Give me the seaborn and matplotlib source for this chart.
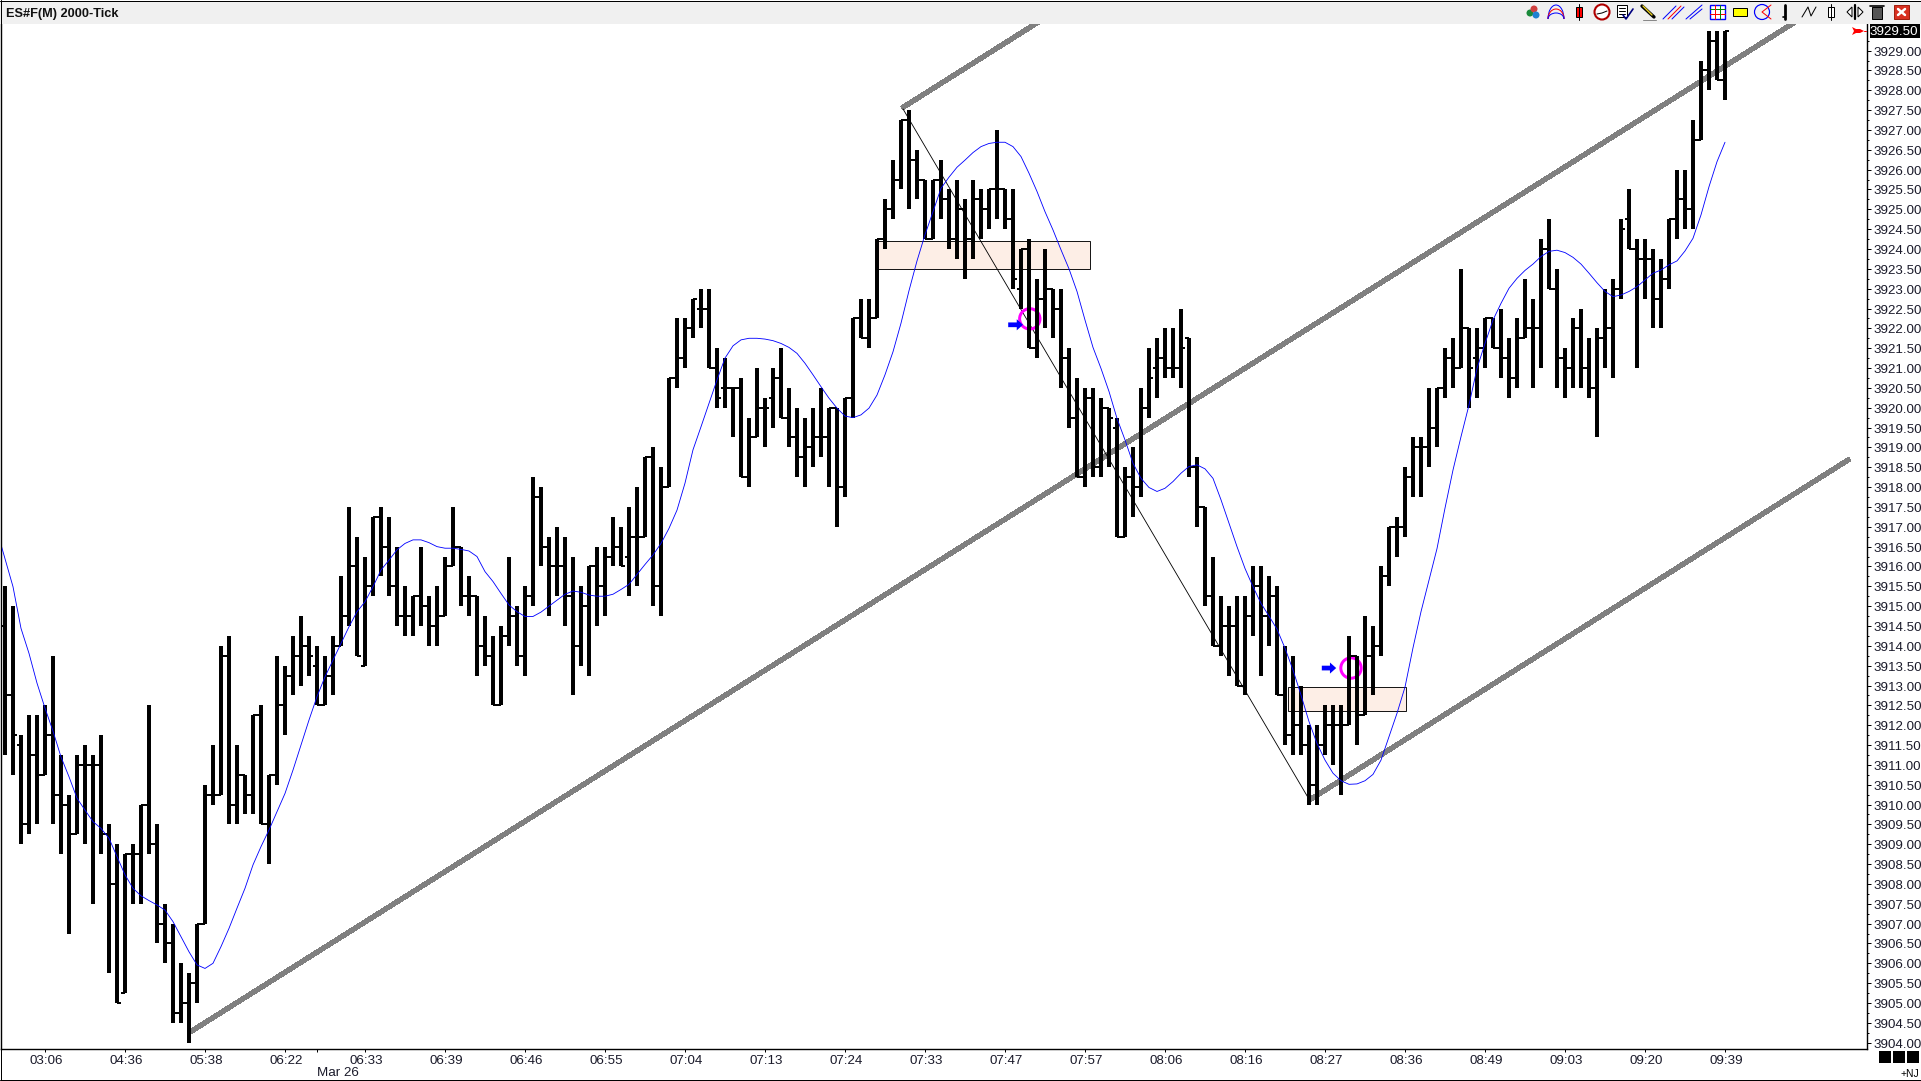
import numpy as np
import pandas as pd
import matplotlib
matplotlib.use("Agg")
import matplotlib.pyplot as plt
from matplotlib.patches import Rectangle, Circle, Polygon, Arc
from matplotlib.transforms import ScaledTranslation
import seaborn as sns

# prices are stored as offset from this level
BASE = 3900

opens = [14.5,12.75,11.5,9.5,11.25,10.75,11.75,10.25,10,9.25,11,11,11,9.25,8,5.25,8.75,8.75,10,9,
 7,6.5,4.75,5,5.5,7,10.25,10.25,13.75,10,10.75,10.25,12.25,9.5,10.75,12.5,13.25,13.75,14,13.5,
 12.5,13.25,14,14.75,16,13.5,15.5,17.25,16.5,15.5,14.75,14.75,15.25,15,14.5,14.75,16,16.5,15.25,15.25,
 14,13.75,12.5,14.25,14.75,13.75,15.25,17.75,16.5,16,16,15.25,14,15,16,15.5,16.25,16.5,16.25,16.75,
 16.75,18.75,15.5,18,20.75,21.25,22,22.5,22.5,21,20.5,20.5,20.5,18.25,19.25,20,20.25,20.75,19.75,19.25,
 18.75,19,19.25,19.25,20,18,20.25,22.25,21.75,22.25,24.25,25,25.75,27.25,26.25,25.75,24.25,25.75,25.25,24.25,
 25,24.25,25.25,25,25.5,25.5,24.75,23,24,21.5,22.75,23,22.5,21.25,19.75,18.25,20.25,18.5,20,19.5,
 16.75,18.25,18,20,21,21.25,21,21,21.75,18.5,17.5,15.25,14,14.5,14.5,13,14.75,15.5,14.75,15.25,
 12.75,11.75,12,11.5,10.5,11.5,12,12,12,13.75,12.25,13.75,14,15.75,17,17,18.25,19,19,19.5,
 20.5,21.25,21,22,21.25,21.5,22.25,21.5,21.25,20.75,21.75,22,22,24,23,21.25,21,22,21,20.5,
 21.75,22,23,24.75,24,23.75,23.75,22.75,23.25,24.75,25.25,25,26.75,28.5,29.25,28.25]
highs = [15.5,15,11.75,12.25,12.25,12.5,13.75,11.25,10.25,11.25,11.5,11.25,11.75,9.5,9,8.75,9,10,12.5,9.5,
 7.5,7,6,5.75,7,10.5,11.5,14,14.25,11.5,10.75,12.25,12.5,10.75,13.75,13.5,14.25,14.75,14.25,14,
 13.75,14.25,15.75,17.5,16.75,16.25,17.25,17.5,17.25,16.5,15.5,15.25,16.5,15.25,15.5,16.25,17.5,16.5,15.75,15.25,
 14.75,14.25,14.5,16.25,15,15.5,18.25,18,16.75,17,16.75,16.25,15.5,16,16.5,16.5,17.25,17,17.5,18,
 18.75,19,18.5,20.75,22.25,22.25,22.75,23,23,21.5,21.25,20.5,20.75,19.75,21,20.25,21,21.5,20.5,20,
 19.75,20,20.5,20,20,20.25,22.25,22.75,22.75,24.25,25.25,26.25,27.25,27.5,26.5,25.75,25.75,26.25,25.5,25.75,
 25.25,25.75,25.5,25.5,27,25.5,25.5,24,24.25,23.25,24,23,23,21.5,20.75,20.5,20.5,20.25,20,19.75,
 18.5,19,20.5,21.5,21.75,22,22,22.5,21.75,18.75,17.5,16.25,15.25,15,15.25,15.25,16,16,15.75,15.5,
 14,13.75,13,12,12,12.5,12.5,12.5,14.25,13.75,14.75,14.5,16,17,17.25,18.5,19.25,19.25,20.5,20.5,
 21.5,21.75,23.5,22,22,22.25,22.25,22.5,21.75,22.25,23.25,22.75,24.25,24.75,23.5,21.5,22.25,22.5,21.75,22,
 23,23.25,24.75,25.5,24.25,24.25,24,23.75,24.75,26,26,27.25,28.75,29.5,29.5,29.5]
lows = [11.25,10.75,9,9.25,9.5,10.75,9.5,8.75,6.75,9.25,9,7.5,8.75,5.75,5,5.25,7.5,7.5,8.75,6.5,
 6,4.5,4.5,4,5,7,10,10.25,9.5,9.5,9.75,9.75,9.5,8.5,10.5,11.75,12.75,13,13.25,12.5,
 12.5,12.75,14,14.5,13.75,13.5,15.25,15.75,15.25,14.5,14.25,14.25,14.5,14,14,14.75,16,15,14.75,13.25,
 13.5,12.5,12.5,14,13.5,13.25,15,16,14.75,15.25,14.5,12.75,13.5,13.25,14.5,14.75,16,16,15.25,15.5,
 16.75,15,14.75,18,20.5,21,21.75,22,21,20,20,19.25,18.25,18,19.25,19,19.5,19.75,19,18.25,
 18,18.5,18.75,18,17,17.75,19.75,21.75,21.5,22.25,24,24.75,25.5,25,25.25,24.25,24.25,24.75,24,23.75,
 23.25,23.75,24.25,24.5,24.75,24.5,23,22.5,21.5,21.25,22,21.75,20.5,19.5,18.25,18,18.25,18.25,18.5,16.75,
 16.75,17.25,17.75,19.75,20.25,20.75,20.75,20.5,18.25,17,15,14,13.75,13.25,13,12.75,14.25,13.25,14,12.75,
 11.5,11.25,11.25,10,10,11.25,11,10.25,12,11.5,12.25,12.75,13.75,15.5,16.25,16.75,17.75,17.75,18.5,19,
 20.25,20.5,21,20,20.25,21,21.5,20.75,20.25,20.5,21.75,20.5,21,23,20.5,20.25,20.5,20.5,20.25,19.25,
 21,20.75,22.75,24,21,22.75,22,22,23,24.25,24.5,24.5,26.75,28,28.25,27.75]
closes = [12.75,11.75,9.5,11.25,10.75,11.75,10.25,10,9.25,11,11,11,9.25,8,5,8.75,8.75,10,9,7,
 6.5,4.75,5,5.5,7,10.25,10.25,13.75,10,10.75,10.25,12.25,9.5,10.75,12.5,13.25,13.75,14,13.75,12.5,
 13.25,14,14.75,16,13.75,15.5,17.25,16.5,15.5,14.75,14.75,15.25,15,14.5,14.75,16,16.5,15.25,15.25,14,
 13.75,12.5,14.25,14.75,13.75,15.25,17.75,16.5,16,16,15.25,14,15,16,15.5,16.25,16.5,16,16.75,16.75,
 18.75,15.5,18,20.75,21.25,22,22.75,22.5,21,20.25,20.5,20.5,18.25,19.25,20,20,20.75,19.75,19.25,18.75,
 19,19.25,19.25,20,18,20.25,22.25,21.75,22.25,24.25,25,25.75,27.25,26.25,25.75,24.25,25.75,25.25,24.25,25,
 24.25,25.25,25,25.5,25.5,24.75,23.25,24,21.5,22.75,23,22.5,21.25,19.75,18.25,20.25,18.5,20,19.75,16.75,
 18.25,18,20,20.75,21.25,21,21,21.5,18.5,17.5,15.25,14,14.5,14.5,13,14.75,15.5,14.75,15.25,12.75,
 11.75,12,11.5,10.5,11.5,12,12,12,13.75,12.25,13.75,14,15.75,17,17,18.25,19,19,19.5,20.5,
 21.25,21,22,21,21.5,22.25,21.5,21.25,20.75,21.75,22,22,24,23,21.25,21,22,21,20.5,21.75,
 22,23,24.5,24,23.75,23.75,22.75,23.25,24.75,25.25,25,26.75,28.5,29.25,28.25,29.5]

# blue average, first value sits one bar left of the first bar
ma_values = [16.9,16.2,15.49,14.44,13.81,13.06,12.43,11.85,11.2,10.7,10.16,
 9.86,9.57,9.4,9.15,8.69,8.23,7.89,7.7,7.58,7.47,
 7.34,7.05,6.67,6.29,5.96,5.87,6.0,6.42,6.88,7.39,
 7.89,8.48,8.94,9.36,9.82,10.28,10.87,11.5,12.13,12.72,
 13.22,13.64,14.06,14.48,14.86,15.11,15.49,15.91,16.16,16.42,
 16.58,16.67,16.67,16.6,16.5,16.46,16.46,16.43,16.39,16.25,
 15.87,15.62,15.32,15.03,14.86,14.74,14.74,14.85,15.0,15.15,
 15.3,15.38,15.35,15.28,15.25,15.25,15.3,15.42,15.55,15.8,
 16.05,16.29,16.58,16.96,17.42,18.1,18.94,19.52,20.11,20.7,
 21.25,21.56,21.71,21.75,21.75,21.73,21.69,21.62,21.52,21.37,
 21.12,20.83,20.53,20.24,19.99,19.79,19.75,19.82,19.99,20.32,
 20.83,21.41,22.13,22.95,23.7,24.36,24.94,25.53,25.81,26.06,
 26.24,26.43,26.58,26.66,26.69,26.69,26.58,26.33,25.91,25.45,
 24.94,24.48,23.98,23.5,22.93,22.21,21.52,20.99,20.41,19.73,
 19.19,18.6,18.22,17.99,17.89,17.97,18.14,18.35,18.52,18.56,
 18.46,18.22,17.68,17.09,16.5,15.95,15.49,15.07,14.75,14.42,
 13.94,13.39,12.76,12.09,11.54,11.12,10.79,10.6,10.51,10.52,
 10.6,10.76,11.12,11.71,12.3,12.96,13.95,14.86,15.66,16.45,
 17.47,18.43,19.27,20.07,20.99,21.62,22.21,22.63,23.01,23.26,
 23.46,23.62,23.81,23.94,23.97,23.91,23.79,23.62,23.39,23.15,
 22.93,22.8,22.84,22.93,23.05,23.22,23.39,23.47,23.6,23.7,
 23.95,24.27,24.86,25.57,26.2,26.69]

time_labels = ["03:06","04:36","05:38","06:22","06:33","06:39","06:46","06:55","07:04","07:13","07:24",
               "07:33","07:47","07:57","08:06","08:16","08:27","08:36","08:49","09:03","09:20","09:39"]
time_bars = list(range(5, 216, 10))
date_bar = 39

# (bar, price) pairs of the drawn tools
channel_a = [(23, 3904.25), (224, 3929.75)]
channel_b = [(112.1, 3927.55), (132, 3930.08)]
channel_c = [(163.1, 3910.12), (230.6, 3918.71)]
thin_line = [(112.25, 3927.53), (162.9, 3910.17)]
zones = [(109, 135.6, 3923.49, 3924.2), (160.4, 175.1, 3912.35, 3912.96)]
circles = [(128.1, 3922.24), (168.25, 3913.44)]
arrows = [(125.4, 127.25, 3922.09), (164.6, 166.4, 3913.44)]

bars = pd.DataFrame({"bar": range(len(opens)), "open": opens, "high": highs, "low": lows, "close": closes})
bars[["open", "high", "low", "close"]] += BASE
ma = pd.DataFrame({"bar": range(-1, len(ma_values) - 1), "price": np.array(ma_values) + BASE})

sns.set_style("white")
plt.rcParams["font.family"] = ["Liberation Sans", "DejaVu Sans"]

W, H = 1921, 1081
fig = plt.figure(figsize=(W / 100, H / 100), dpi=100, facecolor="white")
ax = fig.add_axes([1 / W, 1 - 1049 / H, 1866 / W, 1025 / H])
PX = 0.72  # one pixel in points

# zones, channels
for x0, x1, y0, y1 in zones:
    ax.add_patch(Rectangle((x0, y0), x1 - x0, y1 - y0, fc="#FDEEE6", ec="black", lw=0.9 * PX, zorder=1))
for line in [channel_a, channel_b, channel_c]:
    xs, ys = zip(*line)
    ax.plot(xs, ys, color="#808080", lw=4.2 * PX, solid_capstyle="butt", zorder=2, antialiased=False)
xs, ys = zip(*thin_line)
ax.plot(xs, ys, color="black", lw=0.85 * PX, zorder=2.5)

# signal markers sit under the bars
cx, cy = zip(*circles)
ax.scatter(cx, cy, s=215, facecolors="none", edgecolors="#FF00FF", linewidths=3 * PX, zorder=2.7)
for x0, x1, y in arrows:
    ax.annotate("", xy=(x1, y), xytext=(x0, y),
                arrowprops=dict(fc="#0000FF", ec="#0000FF", width=3.4, headwidth=8, headlength=4.5, shrink=0, lw=0),
                zorder=2.7)

# OHLC bars, snapped so the widths stay on whole pixels
ax.vlines(bars["bar"], bars["low"], bars["high"], color="black", lw=3.98 * PX, zorder=3, snap=True)
ax.hlines(bars["open"], bars["bar"] - 0.5, bars["bar"], color="black", lw=1.98 * PX, zorder=3, snap=True)
ax.hlines(bars["close"], bars["bar"], bars["bar"] + 0.5, color="black", lw=1.98 * PX, zorder=3, snap=True)

sns.lineplot(data=ma, x="bar", y="price", color="#0000FF", lw=0.85 * PX, zorder=4, ax=ax, errorbar=None)

ax.set_xlim(-0.5, 232.75)
ax.set_ylim(3903.84, 3929.67)
ax.set_xlabel("")
ax.set_ylabel("")
ax.spines["top"].set_visible(False)
for side in ["left", "right", "bottom"]:
    ax.spines[side].set_visible(True)
    ax.spines[side].set_color("black")
    ax.spines[side].set_linewidth(1.4 * PX)

ax.yaxis.tick_right()
y_major = np.arange(3904, 3929.5, 0.5)
ax.set_yticks(y_major)
ax.set_yticklabels([f"{v:.2f}" for v in y_major], fontsize=9.6, color="#1a1a2a")
ax.set_yticks(np.arange(3904.25, 3929.75, 0.5), minor=True)
ax.tick_params(axis="y", which="major", right=True, length=2.6, width=PX, pad=1.8, color="black")
ax.tick_params(axis="y", which="minor", right=True, length=1.6, width=PX, color="black")
ax.set_xticks(time_bars)
ax.set_xticklabels(time_labels, fontsize=9.6, color="#1a1a2a")
ax.set_xticks([date_bar], minor=True)
ax.tick_params(axis="x", which="major", bottom=True, length=2.4, width=PX, pad=1.8, color="black")
ax.tick_params(axis="x", which="minor", bottom=True, length=2.4, width=PX, color="black")
for label in ax.get_xticklabels():
    label.set_transform(label.get_transform() + ScaledTranslation(1.5 / 100, 0, fig.dpi_scale_trans))
for label in ax.get_yticklabels():
    label.set_transform(label.get_transform() + ScaledTranslation(0, -0.5 / 100, fig.dpi_scale_trans))

# window chrome in pixel coordinates
ui = fig.add_axes([0, 0, 1, 1], zorder=5)
ui.set_xlim(0, W)
ui.set_ylim(H, 0)
ui.axis("off")
ui.patch.set_alpha(0)

ui.add_patch(Rectangle((0, 1), W, 23, fc="#F0F0F0", ec="none"))
ui.plot([0, W], [0.5, 0.5], color="black", lw=PX)
ui.plot([0, W], [1079.5, 1079.5], color="black", lw=PX)
ui.plot([1920.5, 1920.5], [0, H], color="black", lw=PX)
ui.plot([0.5, 0.5], [0, H], color="black", lw=PX)
ui.text(6, 13.5, "ES#F(M) 2000-Tick", fontsize=9.2, fontweight="bold", va="center", ha="left", color="#111111")
ui.text(317, 1072.5, "Mar 26", fontsize=9.6, va="center", ha="left", color="#1a1a2a")
ui.text(1919, 1074, "+NJ", fontsize=7.5, va="center", ha="right", color="black")

# last price box and pointer
ui.add_patch(Rectangle((1870, 24), 50, 14, fc="black", ec="none"))
ui.text(1917.5, 32, "3929.50", fontsize=9.6, color="white", va="center", ha="right")
ui.add_patch(Polygon([(1852, 27), (1856, 29), (1860, 29), (1864, 31), (1860, 33), (1856, 33), (1852, 35), (1854, 31)],
                     fc="#FF0000", ec="none"))
ui.plot([1864, 1866], [31, 31], color="#FF0000", lw=PX)

# bottom right status squares
for x0 in [1879, 1893, 1907]:
    ui.add_patch(Rectangle((x0, 1051), 12, 12, fc="black", ec="none"))

# toolbar icons
ui.add_patch(Circle((1530, 13), 3.5, fc="#1A8A3A", ec="none"))
ui.add_patch(Circle((1534, 9), 3.5, fc="#D04040", ec="none"))
ui.add_patch(Circle((1536, 15), 3.5, fc="#2080D0", ec="none"))
for top, c in [(5, "#0000FF"), (9, "#FF0000"), (13, "#0000FF")]:
    ui.add_patch(Arc((1556, 19), 16, 2 * (19 - top), theta1=180, theta2=360, ec=c, lw=PX))
ui.plot([1579, 1579], [4, 20], color="black", lw=PX)
ui.add_patch(Rectangle((1576, 7), 6, 10, fc="#FF0000", ec="black", lw=PX))
ui.add_patch(Circle((1602, 12), 7.5, fc="white", ec="#B00000", lw=1.5))
ui.plot([1597, 1602, 1607], [14, 13, 11], color="black", lw=PX)
ui.add_patch(Rectangle((1617, 5), 10, 12, fc="white", ec="black", lw=PX))
for y in [8, 11, 14]:
    ui.plot([1619, 1625], [y, y], color="black", lw=PX)
ui.plot([1623, 1626, 1633], [15, 19, 9], color="#000080", lw=1.2)
ui.plot([1642, 1654], [6, 17], color="black", lw=2.4)
ui.plot([1643, 1652], [6, 15], color="#E8D020", lw=1)
ui.plot([1643, 1656], [19.5, 19.5], color="#888888", lw=PX)
ui.plot([1663, 1676], [19, 6], color="#0000FF", lw=PX)
ui.plot([1668, 1681], [19, 6], color="#FF0000", lw=PX)
ui.plot([1672, 1684], [19, 7], color="#0000FF", lw=PX)
ui.plot([1686, 1702], [19, 5], color="#0000FF", lw=PX)
ui.plot([1690, 1702], [19, 9], color="#0000FF", lw=PX)
ui.add_patch(Rectangle((1710, 5), 15, 14, fc="white", ec="#0000FF", lw=1))
for y in [9, 14]:
    ui.plot([1710, 1725], [y, y], color="#FF0000" if y == 14 else "#008000", lw=PX)
for x in [1715, 1720]:
    ui.plot([x, x], [5, 19], color="#FF0000" if x == 1715 else "#008000", lw=PX)
ui.add_patch(Rectangle((1733, 8), 14, 8, fc="#FFFF00", ec="black", lw=PX))
ui.add_patch(Circle((1762, 12), 7.5, fc="none", ec="#0000FF", lw=PX * 1.2))
ui.plot([1771, 1762, 1771], [5, 12, 19], color="#FF0000", lw=PX)
ui.plot([1785, 1785], [5, 19], color="black", lw=2)
ui.plot([1783, 1785], [17, 17], color="black", lw=1.2)
ui.plot([1802, 1808, 1811, 1816], [17, 7, 16, 7], color="black", lw=PX)
ui.plot([1831, 1831], [4, 20], color="black", lw=PX)
ui.add_patch(Rectangle((1828, 7), 6, 10, fc="white", ec="black", lw=PX))
ui.plot([1855, 1855], [5, 19], color="black", lw=1.6)
ui.add_patch(Polygon([(1852, 7), (1847, 12), (1852, 17)], fc="white", ec="black", lw=PX))
ui.add_patch(Polygon([(1858, 7), (1863, 12), (1858, 17)], fc="white", ec="black", lw=PX))
ui.add_patch(Rectangle((1872, 7), 10, 12, fc="#555555", ec="black", lw=PX))
ui.plot([1870, 1884], [6, 6], color="black", lw=1.2)
ui.add_patch(Rectangle((1894, 5), 15, 14, fc="#D83020", ec="#A02010", lw=PX))
ui.plot([1898, 1905], [9, 15], color="white", lw=1.8)
ui.plot([1905, 1898], [9, 15], color="white", lw=1.8)

fig.savefig("out.png", dpi=100)
